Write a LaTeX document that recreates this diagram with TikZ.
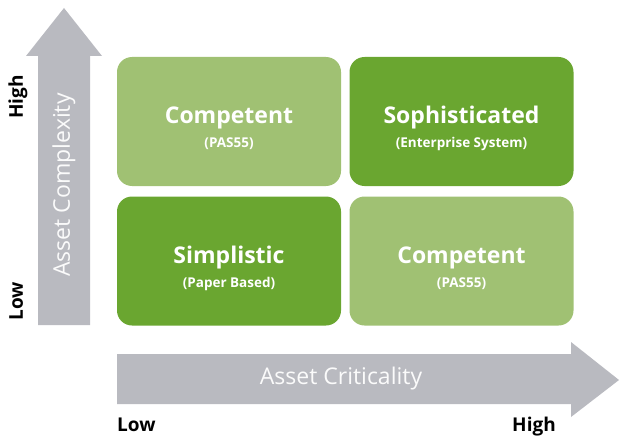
\documentclass[tikz,border=0pt]{standalone}
\usepackage{fontspec}
\setmainfont{Open Sans}
\usepackage{tikz}

\definecolor{lightgreen}{HTML}{A0C173}
\definecolor{darkgreen}{HTML}{6AA630}
\definecolor{arrowgray}{HTML}{B9BAC0}

\tikzset{
  box/.style={rounded corners=15pt, minimum width=224pt, minimum height=129pt, inner sep=0pt},
  boxtitle/.style={font=\fontsize{23}{26}\selectfont\bfseries, text=white, anchor=base, inner sep=0pt},
  boxsub/.style={font=\fontsize{13.5}{16}\selectfont\bfseries, text=white, anchor=base, inner sep=0pt},
  axislabel/.style={font=\fontsize{19}{22}\selectfont\bfseries, text=black, inner sep=0pt},
  arrowtext/.style={font=\fontsize{23}{26}\selectfont, text=white!94!arrowgray}
}

\begin{document}
\begin{tikzpicture}[x=1pt, y=-1pt]
\useasboundingbox (0,0) rectangle (624,436);
% axis arrows
\fill[arrowgray] (38,325) -- (38,56) -- (26,56) -- (64,8) -- (102,56) -- (90,56) -- (90,325) -- cycle;
\fill[arrowgray] (117,354) -- (571,354) -- (571,342) -- (619,380) -- (571,417) -- (571,404) -- (117,404) -- cycle;
\node[arrowtext, rotate=90] (complexity) at (64,185) {Asset Complexity};
\node[arrowtext] (criticality) at (341,379) {Asset Criticality};
% axis ends
\node[axislabel, rotate=90, anchor=base] (vhigh) at (23,97) {High};
\node[axislabel, rotate=90, anchor=base] (vlow) at (23,301) {Low};
\node[axislabel, anchor=base west] (hlow) at (117,431) {Low};
\node[axislabel, anchor=base east] (hhigh) at (556,431) {High};
% quadrants
\node[box, fill=lightgreen] (topleft) at (229,121.5) {};
\node[box, fill=darkgreen] (topright) at (461.5,121.5) {};
\node[box, fill=darkgreen] (bottomleft) at (229,261) {};
\node[box, fill=lightgreen] (bottomright) at (461.5,261) {};
\node[boxtitle] (topleftname) at ([yshift=-2pt]topleft.center) {Competent};
\node[boxsub] (topleftsub) at ([yshift=-26pt]topleft.center) {(PAS55)};
\node[boxtitle] (toprightname) at ([yshift=-2pt]topright.center) {Sophisticated};
\node[boxsub] (toprightsub) at ([yshift=-26pt]topright.center) {(Enterprise System)};
\node[boxtitle] (bottomleftname) at ([yshift=-2pt]bottomleft.center) {Simplistic};
\node[boxsub] (bottomleftsub) at ([yshift=-26pt]bottomleft.center) {(Paper Based)};
\node[boxtitle] (bottomrightname) at ([yshift=-2pt]bottomright.center) {Competent};
\node[boxsub] (bottomrightsub) at ([yshift=-26pt]bottomright.center) {(PAS55)};
\end{tikzpicture}
\end{document}
